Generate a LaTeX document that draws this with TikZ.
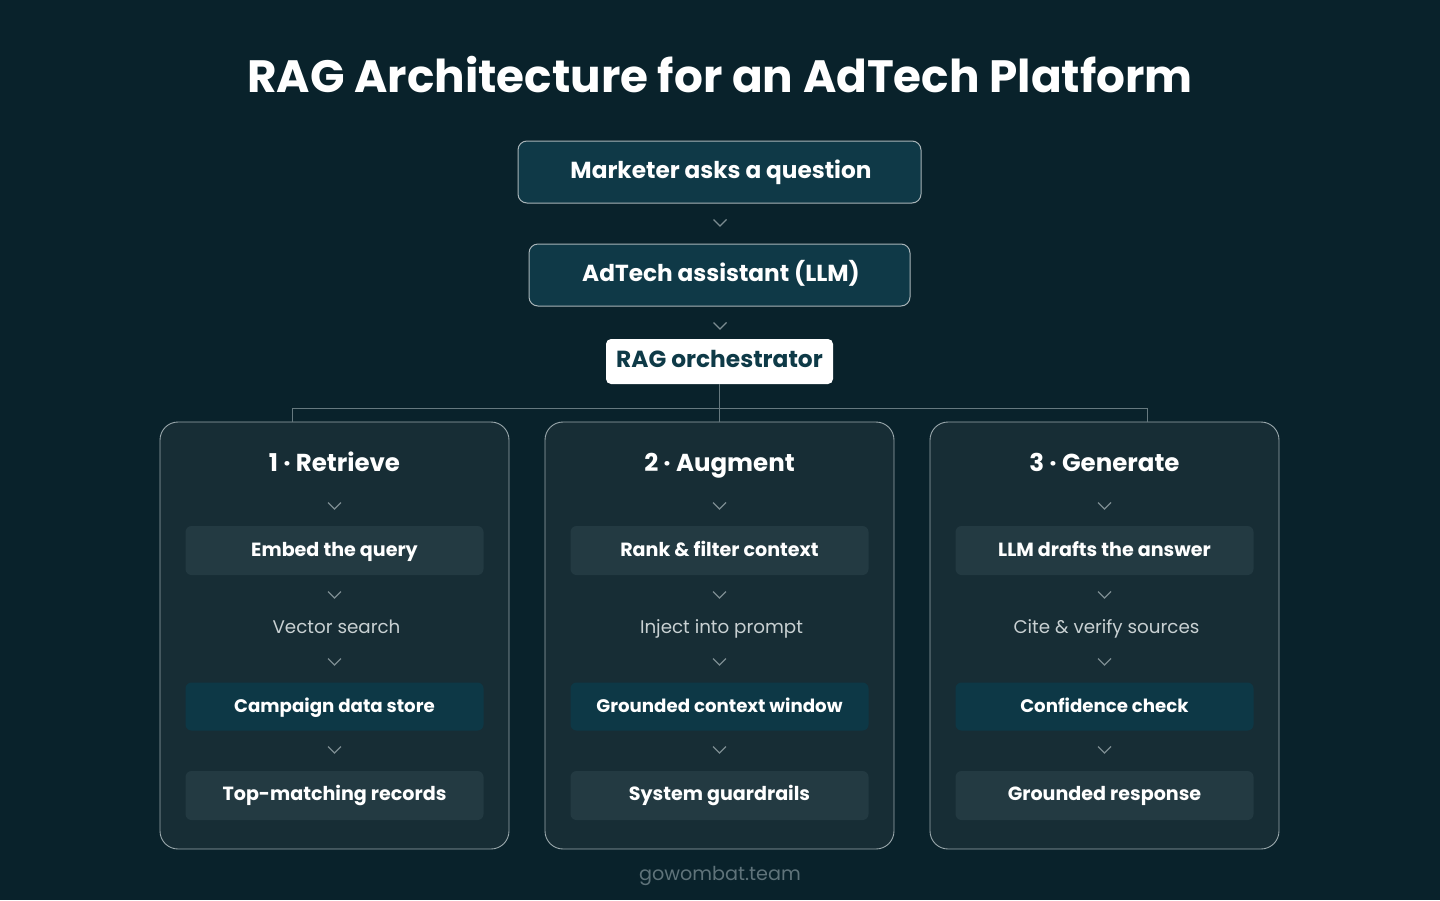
\documentclass[tikz,border=0pt]{standalone}
\usepackage{fontspec}
\setmainfont{Poppins}
\usetikzlibrary{calc}
\definecolor{bg}{HTML}{09222B}
\definecolor{panelfill}{HTML}{172D35}
\definecolor{panelborder}{HTML}{9AA8AC}
\definecolor{lightbox}{HTML}{233A42}
\definecolor{darkbox}{HTML}{0D3846}
\definecolor{topfill}{HTML}{0F3947}
\definecolor{topborder}{HTML}{A8B4B8}
\definecolor{orchtext}{HTML}{0E3A47}
\definecolor{chevcol}{HTML}{7C8C91}
\definecolor{conncol}{HTML}{66797F}
\definecolor{plaintext}{HTML}{C8D0D2}
\definecolor{foot}{HTML}{5F737A}
\tikzset{
  topbox/.style={draw=topborder, line width=1pt, fill=topfill, rounded corners=9pt, text=white, font=\fontsize{23.2}{28}\selectfont\bfseries, inner sep=0pt, text height=16.2pt, text depth=4pt},
  orchbox/.style={fill=white, rounded corners=5pt, text=orchtext, font=\fontsize{23.3}{28}\selectfont\bfseries, inner sep=0pt, minimum width=227pt, minimum height=45pt, text height=16.3pt, text depth=5pt},
  panel/.style={draw=panelborder, line width=0.9pt, fill=panelfill, rounded corners=18pt, minimum width=349pt, minimum height=427pt, inner sep=0pt},
  ptitle/.style={text=white, font=\fontsize{24.5}{28}\selectfont\bfseries, inner sep=0pt, text height=17.2pt, text depth=0pt},
  lbox/.style={fill=lightbox, rounded corners=6pt, minimum width=298pt, minimum height=49pt, text=white, font=\fontsize{19.1}{22}\selectfont\bfseries, inner sep=0pt, text height=13.4pt, text depth=0.5pt},
  dbox/.style={fill=darkbox, rounded corners=6pt, minimum width=298pt, minimum height=48pt, text=white, font=\fontsize{18.2}{22}\selectfont\bfseries, inner sep=0pt, text height=12.8pt, text depth=1.5pt},
  plain/.style={text=plaintext, font=\fontsize{18.3}{22}\selectfont, inner sep=0pt, text height=12.8pt, text depth=0pt},
  chev/.style={draw=chevcol, line width=1.3pt},
  conn/.style={draw=conncol, line width=1pt}
}
\newcommand{\chevat}[1]{\draw[chev] ($(#1)+(-6.5,-3.5)$) -- ($(#1)+(0,3)$) -- ($(#1)+(6.5,-3.5)$);}
\begin{document}
\begin{tikzpicture}[x=1pt,y=-1pt]
\fill[bg] (0,0) rectangle (1440,900);
\useasboundingbox (0,0) rectangle (1440,900);

\node[text=white, font=\fontsize{45.3}{52}\selectfont\bfseries, inner sep=0pt, text height=31.7pt, text depth=0pt] (title) at (720,76.7) {RAG Architecture for an AdTech Platform};

\node[topbox, minimum width=403pt, minimum height=62pt] (q) at (719.5,172) {\hspace{3pt}Marketer asks a question};
\node[topbox, minimum width=381pt, minimum height=62pt] (llm) at (719.5,275) {\hspace{3pt}AdTech assistant (LLM)};
\node[orchbox] (orch) at (719.5,361.5) {RAG orchestrator};

\coordinate (ch1) at (720,223);
\coordinate (ch2) at (720,326);
\chevat{ch1}
\chevat{ch2}

% panels
\node[panel] (p1) at (334.5,635.5) {};
\node[panel] (p2) at (719.5,635.5) {};
\node[panel] (p3) at (1104.5,635.5) {};

% connectors
\coordinate (c1) at (292,408);
\coordinate (c3) at (1147,408);
\draw[conn] (orch.south) -- (orch.south |- p2.north);
\draw[conn] (c1) -- (c3);
\draw[conn] (c1) -- (c1 |- p1.north);
\draw[conn] (c3) -- (c3 |- p3.north);

% panel contents
\foreach \px/\n/\ttl/\a/\b/\c/\d in {
  334.5/1/{1 · Retrieve}/{Embed the query}/{Vector search}/{Campaign data store}/{Top-matching records},
  719.5/2/{2 · Augment}/{Rank \& filter context}/{Inject into prompt}/{Grounded context window}/{System guardrails},
  1104.5/3/{3 · Generate}/{LLM drafts the answer}/{Cite \& verify sources}/{Confidence check}/{Grounded response}}{
  \node[ptitle] (t\n) at (\px,462.5) {\ttl};
  \node[lbox] (a\n) at (\px,550.5) {\a};
  \node[plain] (b\n) at (\px+2,627.5) {\b};
  \node[dbox] (c\n) at (\px,706.5) {\c};
  \node[lbox, text depth=3pt] (d\n) at (\px,795.5) {\d};
  \chevat{\px,506}
  \chevat{\px,595}
  \chevat{\px,662}
  \chevat{\px,750}
}

\node[text=foot, font=\fontsize{19.2}{22}\selectfont, inner sep=0pt, anchor=base] (footer) at (720,880.5) {gowombat.team};
\end{tikzpicture}
\end{document}
